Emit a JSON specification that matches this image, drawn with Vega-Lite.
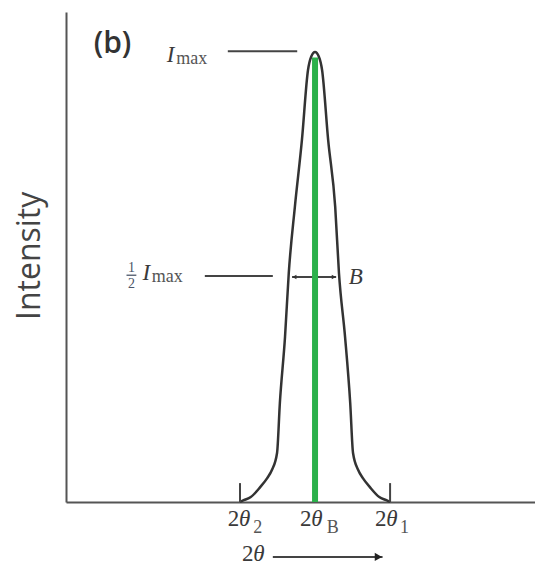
{
  "$schema": "https://vega.github.io/schema/vega-lite/v6.json",
  "width": 469,
  "height": 490,
  "autosize": {"type": "none"},
  "padding": {"left": 66, "top": 12, "right": 0, "bottom": 65},
  "background": "white",
  "config": {
    "view": {"stroke": null},
    "axis": {"ticks": false, "labels": false, "grid": false, "title": null, "domainColor": "#555555", "domainWidth": 2}
  },
  "datasets": {
    "curve": [
      {"x": 37.1, "y": 0}, {"x": 37.9, "y": 0.4}, {"x": 39.4, "y": 1.1}, {"x": 41.4, "y": 3.3},
      {"x": 42.9, "y": 5.3}, {"x": 43.9, "y": 7.1}, {"x": 45.0, "y": 10.9}, {"x": 45.6, "y": 22},
      {"x": 46.7, "y": 36.7}, {"x": 47.5, "y": 50.9}, {"x": 48.8, "y": 65.6}, {"x": 50.3, "y": 80.4},
      {"x": 51.6, "y": 96}, {"x": 52.3, "y": 99}, {"x": 53.1, "y": 100}, {"x": 53.9, "y": 99},
      {"x": 54.6, "y": 96}, {"x": 55.9, "y": 80.4}, {"x": 57.4, "y": 65.6}, {"x": 58.2, "y": 50.9},
      {"x": 59.5, "y": 36.7}, {"x": 60.6, "y": 22}, {"x": 61.2, "y": 10.9}, {"x": 62.3, "y": 7.1},
      {"x": 63.3, "y": 5.3}, {"x": 64.8, "y": 3.3}, {"x": 66.8, "y": 1.1}, {"x": 68.3, "y": 0.4},
      {"x": 69.1, "y": 0}
    ],
    "rules": [
      {"x": 34.5, "x2": 49.3, "y": 100.2, "y2": 100.2},
      {"x": 29.6, "x2": 44.1, "y": 50.2, "y2": 50.2},
      {"x": 37.1, "x2": 37.1, "y": 0, "y2": 4.2},
      {"x": 69.1, "x2": 69.1, "y": 0, "y2": 4.2},
      {"x": 48.2, "x2": 57.6, "y": 50, "y2": 50},
      {"x": 44.1, "x2": 67.5, "y": -12.2, "y2": -12.2}
    ],
    "fracbar": [{"x": 12.9, "x2": 15.0, "y": 50.4}],
    "peak": [{"x": 53.1, "y": 0, "y2": 98.8}],
    "heads": [
      {"x": 48.7, "y": 50, "dir": "left"},
      {"x": 57.1, "y": 50, "dir": "right"}
    ],
    "bighead": [{"x": 66.6, "y": -12.2}],
    "labels": [
      {"role": "roman", "text": "2", "x": 34.5, "y": -5.3},
      {"role": "italic", "text": "θ", "x": 36.9, "y": -5.3},
      {"role": "sub", "text": "2", "x": 39.9, "y": -6.8},
      {"role": "roman", "text": "2", "x": 49.9, "y": -5.3},
      {"role": "italic", "text": "θ", "x": 52.3, "y": -5.3},
      {"role": "sub", "text": "B", "x": 55.6, "y": -6.8},
      {"role": "roman", "text": "2", "x": 65.9, "y": -5.3},
      {"role": "italic", "text": "θ", "x": 68.3, "y": -5.3},
      {"role": "sub", "text": "1", "x": 71.2, "y": -6.8},
      {"role": "roman", "text": "2", "x": 37.5, "y": -13.1},
      {"role": "italic", "text": "θ", "x": 39.9, "y": -13.1},
      {"role": "italic", "text": "I", "x": 21.5, "y": 97.8},
      {"role": "sub", "text": "max", "x": 23.5, "y": 97.4},
      {"role": "frac", "text": "1", "x": 13.95, "y": 51.1},
      {"role": "frac", "text": "2", "x": 13.95, "y": 47.6},
      {"role": "italic", "text": "I", "x": 16.3, "y": 49.3},
      {"role": "sub", "text": "max", "x": 18.3, "y": 48.9},
      {"role": "italic", "text": "B", "x": 60.3, "y": 48.4},
      {"role": "panel", "text": "(b)", "x": 5.9, "y": 99.8},
      {"role": "axis", "text": "Intensity", "x": -7.7, "y": 54.7}
    ]
  },
  "layer": [
    {
      "data": {"name": "curve"},
      "mark": {"type": "line", "interpolate": "monotone", "stroke": "#333333", "strokeWidth": 2.5},
      "encoding": {
        "x": {"field": "x", "type": "quantitative", "scale": {"domain": [0, 100], "nice": false, "zero": false}, "axis": {}},
        "y": {"field": "y", "type": "quantitative", "scale": {"domain": [0, 108.9], "nice": false, "zero": false}, "axis": {}}
      }
    },
    {
      "data": {"name": "rules"},
      "mark": {"type": "rule", "stroke": "#444444", "strokeWidth": 2},
      "encoding": {
        "x": {"field": "x", "type": "quantitative"},
        "x2": {"field": "x2"},
        "y": {"field": "y", "type": "quantitative"},
        "y2": {"field": "y2"}
      }
    },
    {
      "data": {"name": "fracbar"},
      "mark": {"type": "rule", "stroke": "#4b5568", "strokeWidth": 1.3},
      "encoding": {
        "x": {"field": "x", "type": "quantitative"},
        "x2": {"field": "x2"},
        "y": {"field": "y", "type": "quantitative"}
      }
    },
    {
      "data": {"name": "heads"},
      "mark": {"type": "point", "filled": true, "color": "#333333", "size": 22, "opacity": 1},
      "encoding": {
        "x": {"field": "x", "type": "quantitative"},
        "y": {"field": "y", "type": "quantitative"},
        "shape": {"field": "dir", "type": "nominal", "scale": {"domain": ["left", "right"], "range": ["triangle-left", "triangle-right"]}, "legend": null}
      }
    },
    {
      "data": {"name": "bighead"},
      "mark": {"type": "point", "filled": true, "color": "#222222", "size": 70, "shape": "triangle-right", "opacity": 1},
      "encoding": {
        "x": {"field": "x", "type": "quantitative"},
        "y": {"field": "y", "type": "quantitative"}
      }
    },
    {
      "data": {"name": "peak"},
      "mark": {"type": "rule", "stroke": "#2bb14b", "strokeWidth": 6},
      "encoding": {
        "x": {"field": "x", "type": "quantitative"},
        "y": {"field": "y", "type": "quantitative"},
        "y2": {"field": "y2"}
      }
    },
    {
      "data": {"name": "labels"},
      "transform": [{"filter": "datum.role === 'roman'"}],
      "mark": {"type": "text", "font": "Liberation Serif", "fontSize": 23, "align": "left", "baseline": "alphabetic", "color": "#3a3a3a"},
      "encoding": {
        "x": {"field": "x", "type": "quantitative"},
        "y": {"field": "y", "type": "quantitative"},
        "text": {"field": "text"}
      }
    },
    {
      "data": {"name": "labels"},
      "transform": [{"filter": "datum.role === 'italic'"}],
      "mark": {"type": "text", "font": "Liberation Serif", "fontStyle": "italic", "fontSize": 23, "align": "left", "baseline": "alphabetic", "color": "#3a3a3a"},
      "encoding": {
        "x": {"field": "x", "type": "quantitative"},
        "y": {"field": "y", "type": "quantitative"},
        "text": {"field": "text"}
      }
    },
    {
      "data": {"name": "labels"},
      "transform": [{"filter": "datum.role === 'sub'"}],
      "mark": {"type": "text", "font": "Liberation Serif", "fontSize": 18, "align": "left", "baseline": "alphabetic", "color": "#555555"},
      "encoding": {
        "x": {"field": "x", "type": "quantitative"},
        "y": {"field": "y", "type": "quantitative"},
        "text": {"field": "text"}
      }
    },
    {
      "data": {"name": "labels"},
      "transform": [{"filter": "datum.role === 'frac'"}],
      "mark": {"type": "text", "font": "Liberation Serif", "fontSize": 14, "align": "center", "baseline": "alphabetic", "color": "#4b5568"},
      "encoding": {
        "x": {"field": "x", "type": "quantitative"},
        "y": {"field": "y", "type": "quantitative"},
        "text": {"field": "text"}
      }
    },
    {
      "data": {"name": "labels"},
      "transform": [{"filter": "datum.role === 'panel'"}],
      "mark": {"type": "text", "font": "Open Sans", "fontWeight": 600, "fontSize": 30, "align": "left", "baseline": "alphabetic", "color": "#333333"},
      "encoding": {
        "x": {"field": "x", "type": "quantitative"},
        "y": {"field": "y", "type": "quantitative"},
        "text": {"field": "text"}
      }
    },
    {
      "data": {"name": "labels"},
      "transform": [{"filter": "datum.role === 'axis'"}],
      "mark": {"type": "text", "font": "Open Sans", "fontSize": 32, "angle": 270, "align": "center", "baseline": "middle", "color": "#444444"},
      "encoding": {
        "x": {"field": "x", "type": "quantitative"},
        "y": {"field": "y", "type": "quantitative"},
        "text": {"field": "text"}
      }
    }
  ]
}
